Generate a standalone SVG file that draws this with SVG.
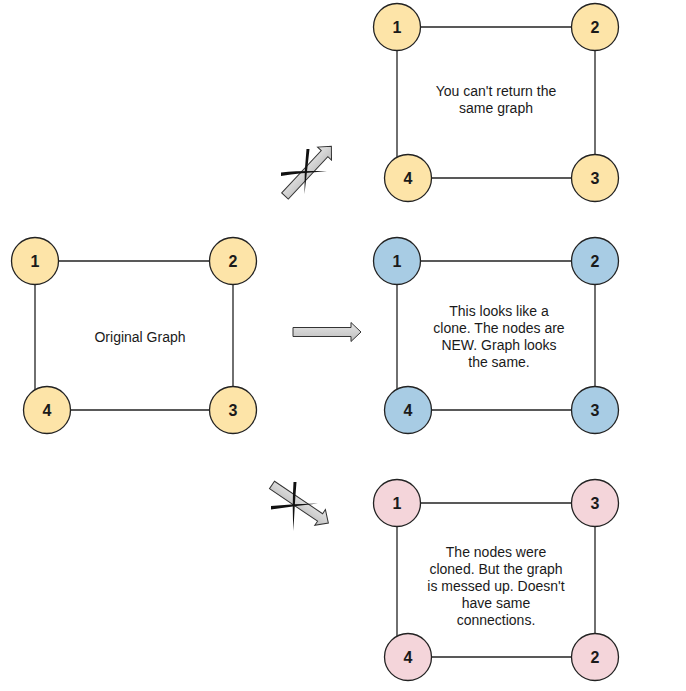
<svg xmlns="http://www.w3.org/2000/svg" width="686" height="691" viewBox="0 0 686 691">
  <defs>
    <linearGradient id="ag" x1="0" y1="0" x2="0" y2="1">
      <stop offset="0" stop-color="#e6e6e6"/>
      <stop offset="1" stop-color="#bdbdbd"/>
    </linearGradient>
    <path id="blk" d="M0,-4.5 L58,-4.5 L58,-9.5 L68,0 L58,9.5 L58,4.5 L0,4.5 Z"/>
  </defs>
  <style>
    .edge { stroke: #222; stroke-width: 1.3; fill: none; }
    .node circle { stroke: #222; stroke-width: 1.3; }
    .y circle { fill: #fde4a8; }
    .b circle { fill: #a8cce4; }
    .p circle { fill: #f4d5da; }
    .node text { font-family: "Liberation Sans", Arial, sans-serif; font-weight: bold; font-size: 16px; fill: #1a1a1a; text-anchor: middle; }
    .lbl { font-family: "Liberation Sans", Arial, sans-serif; font-size: 14px; fill: #1a1a1a; text-anchor: middle; }
    .arrow { fill: url(#ag); stroke: #333; stroke-width: 1; }
    .cross { fill: #111; }
  </style>
  <rect width="686" height="691" fill="#ffffff"/>

  <g id="connectors">
    <line class="edge" x1="35" y1="261" x2="233" y2="261"/>
    <line class="edge" x1="233" y1="261" x2="233" y2="410"/>
    <line class="edge" x1="47" y1="410" x2="233" y2="410"/>
    <line class="edge" x1="35" y1="261" x2="35" y2="400"/>
    <line class="edge" x1="397" y1="27" x2="595" y2="27"/>
    <line class="edge" x1="595" y1="27" x2="595" y2="178"/>
    <line class="edge" x1="408" y1="178" x2="595" y2="178"/>
    <line class="edge" x1="397" y1="27" x2="397" y2="168"/>
    <line class="edge" x1="397" y1="261" x2="595" y2="261"/>
    <line class="edge" x1="595" y1="261" x2="595" y2="410"/>
    <line class="edge" x1="408" y1="410" x2="595" y2="410"/>
    <line class="edge" x1="397" y1="261" x2="397" y2="400"/>
    <line class="edge" x1="397" y1="503" x2="595" y2="503"/>
    <line class="edge" x1="595" y1="503" x2="595" y2="657"/>
    <line class="edge" x1="408" y1="657" x2="595" y2="657"/>
    <line class="edge" x1="397" y1="503" x2="397" y2="647"/>
  </g>

  <g id="arrow-middle">
    <use href="#blk" class="arrow" transform="translate(293,332)"/>
  </g>
  <g id="arrow-top">
    <use href="#blk" class="arrow" transform="translate(285,196) rotate(-47)"/>
    <path class="cross" d="M281,172.5 Q300,170.5 327,171.2 Q300,172.8 281,176 Z"/>
    <path class="cross" d="M309.5,149 Q307,171 304.5,194 Q304,171 306.5,149 Z"/>
  </g>
  <g id="arrow-bottom">
    <use href="#blk" class="arrow" transform="translate(272,485) rotate(34)"/>
    <path class="cross" d="M271,506 Q294,503.5 318,503.5 Q294,506 271,509.5 Z"/>
    <path class="cross" d="M296.5,482 Q294.5,506 293.5,531 Q292,506 293.5,482 Z"/>
  </g>

  <g id="orig-1" class="node y"><circle cx="35" cy="261" r="23.5"/><text x="35" y="267">1</text></g>
  <g id="orig-2" class="node y"><circle cx="233" cy="261" r="23.5"/><text x="233" y="267">2</text></g>
  <g id="orig-3" class="node y"><circle cx="233" cy="410" r="23.5"/><text x="233" y="416">3</text></g>
  <g id="orig-4" class="node y"><circle cx="47" cy="410" r="23.5"/><text x="47" y="416">4</text></g>
  <text class="lbl" x="140" y="342">Original Graph</text>

  <g id="same-1" class="node y"><circle cx="397" cy="27" r="23.5"/><text x="397" y="33">1</text></g>
  <g id="same-2" class="node y"><circle cx="595" cy="27" r="23.5"/><text x="595" y="33">2</text></g>
  <g id="same-3" class="node y"><circle cx="595" cy="178" r="23.5"/><text x="595" y="184">3</text></g>
  <g id="same-4" class="node y"><circle cx="408" cy="178" r="23.5"/><text x="408" y="184">4</text></g>
  <text class="lbl" x="496" y="96">You can't return the</text>
  <text class="lbl" x="496" y="113">same graph</text>

  <g id="clone-1" class="node b"><circle cx="397" cy="261" r="23.5"/><text x="397" y="267">1</text></g>
  <g id="clone-2" class="node b"><circle cx="595" cy="261" r="23.5"/><text x="595" y="267">2</text></g>
  <g id="clone-3" class="node b"><circle cx="595" cy="410" r="23.5"/><text x="595" y="416">3</text></g>
  <g id="clone-4" class="node b"><circle cx="408" cy="410" r="23.5"/><text x="408" y="416">4</text></g>
  <text class="lbl" x="499" y="316">This looks like a</text>
  <text class="lbl" x="499" y="333">clone. The nodes are</text>
  <text class="lbl" x="499" y="350">NEW. Graph looks</text>
  <text class="lbl" x="499" y="367">the same.</text>

  <g id="bad-1" class="node p"><circle cx="397" cy="503" r="23.5"/><text x="397" y="509">1</text></g>
  <g id="bad-3" class="node p"><circle cx="595" cy="503" r="23.5"/><text x="595" y="509">3</text></g>
  <g id="bad-2" class="node p"><circle cx="595" cy="657" r="23.5"/><text x="595" y="663">2</text></g>
  <g id="bad-4" class="node p"><circle cx="408" cy="657" r="23.5"/><text x="408" y="663">4</text></g>
  <text class="lbl" x="496" y="557">The nodes were</text>
  <text class="lbl" x="496" y="574">cloned. But the graph</text>
  <text class="lbl" x="496" y="591">is messed up. Doesn't</text>
  <text class="lbl" x="496" y="608">have same</text>
  <text class="lbl" x="496" y="625">connections.</text>
</svg>
